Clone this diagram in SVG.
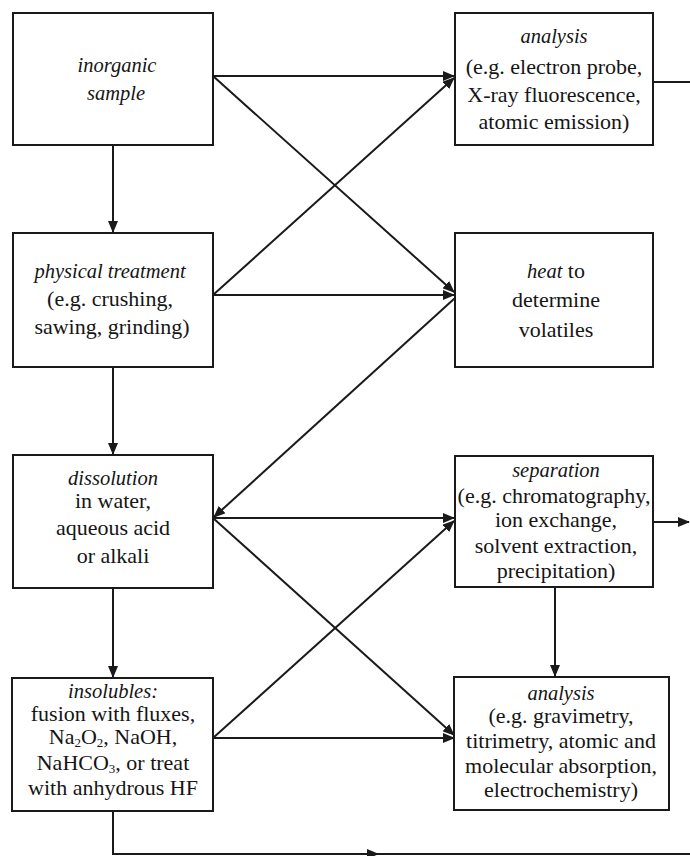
<svg xmlns="http://www.w3.org/2000/svg" width="690" height="856" viewBox="0 0 690 856">
<style>
.box{fill:#fff;stroke:#1a1a1a;stroke-width:2}
.c{fill:none;stroke:#1a1a1a;stroke-width:2}
text{font-family:"Liberation Serif","Times New Roman",serif;font-size:22px;fill:#151515;text-anchor:middle}
.i{font-style:italic;font-size:20.5px}
.s{font-size:13px}
</style>
<defs>
<marker id="ah" viewBox="0 0 12 10" refX="11" refY="5" markerWidth="12" markerHeight="10" markerUnits="userSpaceOnUse" orient="auto">
<path d="M0,0 L12,5 L0,10 Z" fill="#1a1a1a"/>
</marker>
</defs>
<rect width="690" height="856" fill="#fff"/>
<g id="connectors">
<line class="c" x1="113" y1="145" x2="113" y2="232" marker-end="url(#ah)"/>
<line class="c" x1="113" y1="367" x2="113" y2="454" marker-end="url(#ah)"/>
<line class="c" x1="113" y1="588" x2="113" y2="677" marker-end="url(#ah)"/>
<line class="c" x1="555" y1="587" x2="555" y2="676" marker-end="url(#ah)"/>
<line class="c" x1="213" y1="76" x2="454" y2="76" marker-end="url(#ah)"/>
<line class="c" x1="213" y1="76" x2="454" y2="292" marker-end="url(#ah)"/>
<line class="c" x1="213" y1="295" x2="454" y2="295" marker-end="url(#ah)"/>
<line class="c" x1="213" y1="295" x2="454" y2="78" marker-end="url(#ah)"/>
<line class="c" x1="455" y1="298" x2="214" y2="517" marker-end="url(#ah)"/>
<line class="c" x1="213" y1="518" x2="454" y2="518" marker-end="url(#ah)"/>
<line class="c" x1="213" y1="518" x2="454" y2="735" marker-end="url(#ah)"/>
<line class="c" x1="213" y1="738" x2="454" y2="738" marker-end="url(#ah)"/>
<line class="c" x1="213" y1="738" x2="454" y2="521" marker-end="url(#ah)"/>
<line class="c" x1="653" y1="82" x2="690" y2="82"/>
<line class="c" x1="653" y1="522" x2="689" y2="522" marker-end="url(#ah)"/>
<polyline class="c" points="113,811 113,854 690,854"/>
<line class="c" x1="113" y1="854" x2="378" y2="854" marker-end="url(#ah)"/>
</g>
<g id="inorganic-sample">
<rect class="box" x="13" y="13" width="200" height="132"/>
<text class="i" x="117" y="72">inorganic</text>
<text class="i" x="116" y="100">sample</text>
</g>
<g id="analysis-top">
<rect class="box" x="455" y="13" width="198" height="132"/>
<text class="i" x="554" y="43">analysis</text>
<text x="554" y="74">(e.g. electron probe,</text>
<text x="554" y="102">X-ray fluorescence,</text>
<text x="554" y="129">atomic emission)</text>
</g>
<g id="physical-treatment">
<rect class="box" x="13" y="233" width="200" height="134"/>
<text class="i" x="110" y="278">physical treatment</text>
<text x="110" y="306">(e.g. crushing,</text>
<text x="112" y="334">sawing, grinding)</text>
</g>
<g id="heat">
<rect class="box" x="455" y="233" width="198" height="134"/>
<text x="556" y="278"><tspan class="i">heat</tspan> to</text>
<text x="556" y="307">determine</text>
<text x="556" y="337">volatiles</text>
</g>
<g id="dissolution">
<rect class="box" x="13" y="455" width="200" height="133"/>
<text class="i" x="113" y="485">dissolution</text>
<text x="113" y="508">in water,</text>
<text x="113" y="535">aqueous acid</text>
<text x="113" y="563">or alkali</text>
</g>
<g id="separation">
<rect class="box" x="455" y="456" width="198" height="131"/>
<text class="i" x="556" y="477">separation</text>
<text x="554" y="503">(e.g. chromatography,</text>
<text x="556" y="527">ion exchange,</text>
<text x="556" y="553">solvent extraction,</text>
<text x="556" y="578">precipitation)</text>
</g>
<g id="insolubles">
<rect class="box" x="12" y="678" width="201" height="133"/>
<text class="i" x="113" y="698">insolubles:</text>
<text x="113" y="721">fusion with fluxes,</text>
<text x="113" y="744">Na<tspan class="s" baseline-shift="-3">2</tspan>O<tspan class="s" baseline-shift="-3">2</tspan>, NaOH,</text>
<text x="113" y="770">NaHCO<tspan class="s" baseline-shift="-3">3</tspan>,  or treat</text>
<text x="113" y="795">with  anhydrous HF</text>
</g>
<g id="analysis-bottom">
<rect class="box" x="454" y="677" width="215" height="133"/>
<text class="i" x="561" y="700">analysis</text>
<text x="561" y="723">(e.g. gravimetry,</text>
<text x="561" y="748">titrimetry, atomic and</text>
<text x="561" y="773">molecular absorption,</text>
<text x="561" y="797">electrochemistry)</text>
</g>
</svg>
